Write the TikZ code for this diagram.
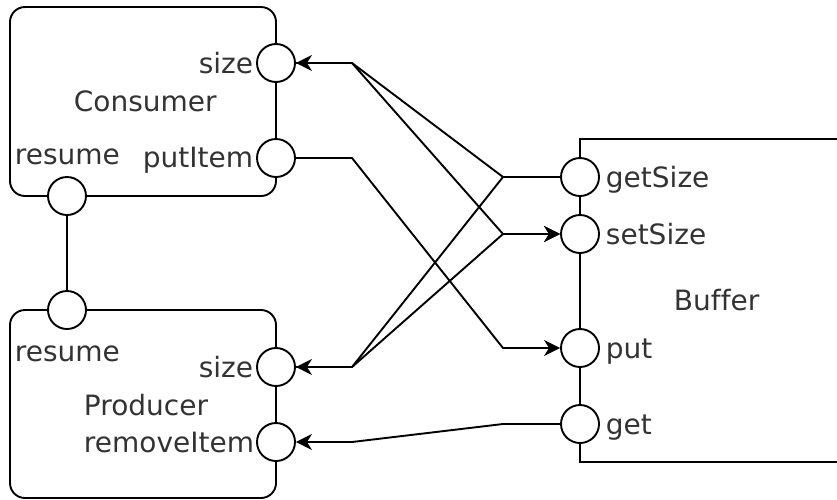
\documentclass[tikz,border=0pt]{standalone}
\usepackage{fontspec}
\setmainfont{DejaVu Sans}[Ligatures=NoCommon]
\usetikzlibrary{arrows.meta}
\definecolor{txt}{HTML}{333333}
\begin{document}
\begin{tikzpicture}[x=1pt,y=-1pt,line width=1.9pt,
  comp/.style={draw, rounded corners=15pt, inner sep=0pt},
  port/.style={circle, draw, fill=white, minimum size=38pt, inner sep=0pt},
  lbl/.style={text=txt, font=\fontsize{28}{32}\selectfont, inner sep=0pt},
  wire/.style={line join=round},
  tip/.style={-{Stealth[length=16pt,width=16pt,inset=5pt]}}]
\useasboundingbox (0,0) rectangle (837,499);
\clip (0,0) rectangle (837,499);

% components
\node[comp, minimum width=266pt, minimum height=189pt] (cons) at (143,101.5) {};
\node[comp, minimum width=266pt, minimum height=188pt] (prod) at (143,404) {};
\node[draw, inner sep=0pt, minimum width=340pt, minimum height=323pt] (buf) at (750,300.5) {};

% component names
\node[lbl, anchor=base west] (consname) at (73,111) {Consumer};
\node[lbl, anchor=base west] (prodname) at (83,415) {Producer};
\node[lbl, anchor=base west] (bufname) at (673,310) {Buffer};

% resume link between Consumer and Producer
\node[port] (cres) at (67,196) {};
\node[port] (pres) at (67,310) {};
\draw (cres) -- (pres);

% ports
\node[port] (csize) at (276,63) {};
\node[port] (cput) at (276,158) {};
\node[port] (psize) at (276,367) {};
\node[port] (prem) at (276,442) {};
\node[port] (bgetsize) at (580,177) {};
\node[port] (bsetsize) at (580,234) {};
\node[port] (bput) at (580,348) {};
\node[port] (bget) at (580,424) {};

% port labels
\node[lbl, anchor=base east] at (254,73) {size};
\node[lbl, anchor=base east] at (254,167) {putItem};
\node[lbl, anchor=base west] at (14,164) {resume};
\node[lbl, anchor=base west] at (14,361) {resume};
\node[lbl, anchor=base east] at (254,377) {size};
\node[lbl, anchor=base east] at (255,452) {removeItem};
\node[lbl, anchor=base west] at (605,187) {getSize};
\node[lbl, anchor=base west] at (605,244) {setSize};
\node[lbl, anchor=base west] at (605,358) {put};
\node[lbl, anchor=base west] at (605,434) {get};

% bend points
\coordinate (kc) at (352,63);
\coordinate (kp) at (352,367);
\coordinate (ki) at (352,158);
\coordinate (kr) at (352,442);
\coordinate (kg) at (503,177);
\coordinate (ks) at (503,234);
\coordinate (ku) at (503,348);
\coordinate (kt) at (503,424);

% connectors
\draw[wire, tip] (bgetsize.west) -- (kg) -- (kc) -- (csize.east);
\draw[wire, tip] (csize.east) -- (kc) -- (ks) -- (bsetsize.west);
\draw[wire, tip] (bgetsize.west) -- (kg) -- (kp) -- (psize.east);
\draw[wire, tip] (psize.east) -- (kp) -- (ks) -- (bsetsize.west);
\draw[wire, tip] (cput.east) -- (ki) -- (ku) -- (bput.west);
\draw[wire, tip] (bget.west) -- (kt) -- (kr) -- (prem.east);
\end{tikzpicture}
\end{document}
